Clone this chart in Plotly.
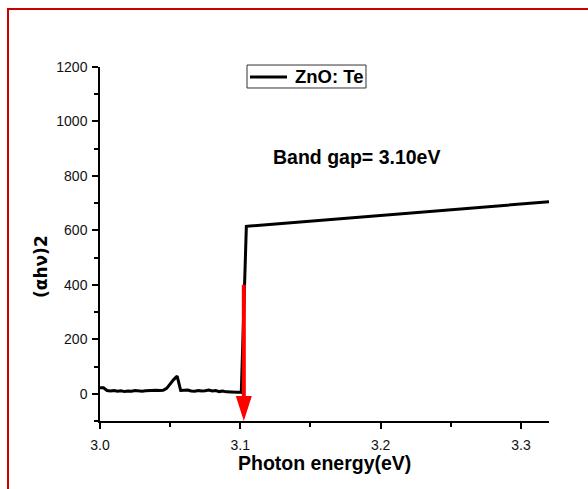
import plotly.graph_objects as go

# Data
energy = [3.000, 3.0025, 3.005, 3.0075, 3.010, 3.0125, 3.015, 3.0175, 3.020, 3.0225,
          3.025, 3.0275, 3.030, 3.0325, 3.035, 3.0375, 3.040, 3.0425, 3.045, 3.0475,
          3.050, 3.0525, 3.055, 3.0575, 3.060, 3.0625, 3.065, 3.0675, 3.070, 3.0725,
          3.075, 3.0775, 3.080, 3.0825, 3.085, 3.0875, 3.090, 3.0925, 3.095, 3.0975,
          3.100, 3.1007, 3.1043, 3.32]
alpha_hv2 = [22, 22, 12, 10, 12, 9, 11, 8, 10, 9,
             12, 10, 9, 11, 12, 14, 13, 12, 13, 20,
             38, 52, 65, 12, 13, 14, 10, 9, 12, 10,
             11, 14, 10, 12, 8, 10, 7, 6, 7, 6,
             6, 5, 615, 705]
series_name = "ZnO: Te"
band_gap = 3.1025
arrow_top = 400
x_ticks = [3.0, 3.1, 3.2, 3.3]
y_ticks = [0, 200, 400, 600, 800, 1000, 1200]

FONT = "Liberation Sans, Arial, sans-serif"

fig = go.Figure()
fig.add_trace(go.Scatter(
    x=energy, y=alpha_hv2, mode="lines", name=series_name,
    line=dict(color="black", width=3), showlegend=False,
))

fig.update_layout(
    width=588, height=489,
    margin=dict(l=100, r=39, t=67, b=68),
    paper_bgcolor="white", plot_bgcolor="white",
    font=dict(family=FONT, size=14, color="black"),
    showlegend=False,
)

fig.update_xaxes(
    range=[3.0, 3.32], tickvals=x_ticks, ticktext=[f"{v:.1f}" for v in x_ticks],
    showgrid=False, zeroline=False, showline=True, linecolor="black", linewidth=1.5,
    ticks="outside", ticklen=6, tickwidth=1.5, tickcolor="black",
    ticklabelstandoff=4,
    tickfont=dict(family=FONT, size=14, color="#111111"),
    minor=dict(dtick=0.05, ticks="outside", ticklen=4, tickwidth=1.5, tickcolor="black"),
)
fig.update_yaxes(
    range=[-100, 1200], tickvals=y_ticks,
    showgrid=False, zeroline=False, showline=True, linecolor="black", linewidth=1.5,
    ticks="outside", ticklen=6, tickwidth=1.5, tickcolor="black",
    ticklabelstandoff=2,
    tickfont=dict(family=FONT, size=14, color="#111111"),
    minor=dict(dtick=100, tick0=0, ticks="outside", ticklen=4, tickwidth=1.5, tickcolor="black"),
)

# Axis titles as annotations
fig.add_annotation(text="<b>Photon energy(eV)</b>", xref="paper", yref="paper",
                   x=0.5, y=-0.119, showarrow=False, xanchor="center", yanchor="middle",
                   font=dict(family=FONT, size=19.5, color="black"))
fig.add_annotation(text="<b>(αhν)2</b>", xref="paper", yref="paper",
                   x=-0.1314, y=0.435, showarrow=False, textangle=-90,
                   xanchor="center", yanchor="middle",
                   font=dict(family="DejaVu Sans, sans-serif", size=17, color="black"))
fig.add_annotation(text="<b>Band gap= 3.10eV</b>", xref="paper", yref="paper",
                   x=0.5713, y=0.7458, showarrow=False, xanchor="center", yanchor="middle",
                   font=dict(family=FONT, size=19.5, color="black"))

# Legend box drawn manually (compact Origin-style)
fig.add_shape(type="rect", xref="paper", yref="paper",
              x0=0.3274, x1=0.5924, y0=0.9407, y1=1.0056,
              line=dict(color="#333333", width=1), fillcolor="white")
fig.add_shape(type="line", xref="paper", yref="paper",
              x0=0.334, x1=0.4165, y0=0.9718, y1=0.9718,
              line=dict(color="black", width=3))
fig.add_annotation(text=f"<b>{series_name}</b>", xref="paper", yref="paper",
                   x=0.43, y=0.9718, showarrow=False, xanchor="left", yanchor="middle",
                   font=dict(family=FONT, size=18.5, color="black"))

# Red arrow marking the band gap
fig.add_shape(type="line", xref="x", yref="y", x0=band_gap, x1=band_gap,
              y0=arrow_top, y1=-40, line=dict(color="red", width=4))
fig.add_shape(type="path", xref="x", yref="y", xsizemode="pixel", ysizemode="pixel",
              xanchor=band_gap, yanchor=-100, path="M-8,25L8,25L0,0Z",
              fillcolor="red", line=dict(color="red", width=0))

# Red frame (extends beyond the right and bottom edges)
fig.add_shape(type="rect", xref="paper", yref="paper",
              x0=-0.2049, x1=1.2, y0=-0.3, y1=1.1638,
              line=dict(color="#cc0000", width=2), fillcolor="rgba(0,0,0,0)", layer="below")

fig.write_html("out.html")
